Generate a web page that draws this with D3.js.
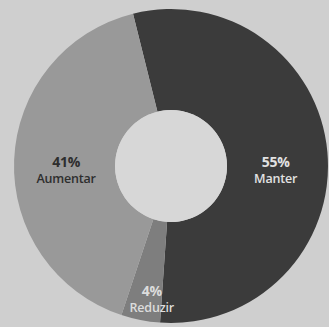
<!DOCTYPE html>
<meta charset="utf-8">
<style>
    body {
        margin: 0;
        overflow: hidden;
        background: #cfcfcf;
    }
    text {
        font-family: "Open Sans", sans-serif;
        text-anchor: middle;
    }
</style>
<svg id="canvas" width="329" height="327"></svg>
<script src="https://d3js.org/d3.v7.min.js"></script>
<script>

    var categories = ["Manter", "Reduzir", "Aumentar"];
    var values = [55, 4, 41];
    var pctLabels = ["55%", "4%", "41%"];

    var fills = ["#3b3b3b", "#7e7e7e", "#999999"];
    var textColors = ["#e2e2e2", "#dcdcdc", "#2e2e2e"];

    var svg = d3.select("svg"),
        cx = 171,
        cy = 166,
        outerR = 157,
        innerR = 56;

    svg.append("rect")
       .attr("width", 329)
       .attr("height", 327)
       .attr("fill", "#cfcfcf");

    var pie = d3.pie()
                .sort(null)
                .startAngle(-14 * Math.PI / 180)
                .endAngle(346 * Math.PI / 180);

    var arc = d3.arc().innerRadius(innerR).outerRadius(outerR);

    var g = svg.append("g").attr("transform", "translate(" + cx + "," + cy + ")");

    var slices = pie(values);

    g.selectAll("path")
     .data(slices)
     .enter().append("path")
     .attr("d", arc)
     .attr("fill", function(d, i) { return fills[i]; });

    // hole
    g.append("circle").attr("r", innerR).attr("fill", "#d7d7d7");

    var labels = g.selectAll("g.label")
                  .data(slices)
                  .enter().append("g")
                  .attr("class", "label")
                  .attr("transform", function(d) {
                      // small slice gets its label pushed out to the rim,
                      // big ones sit on the horizontal centre line
                      if (values[d.index] < 10) {
                          var c = d3.arc().innerRadius(130).outerRadius(130).centroid(d);
                          return "translate(" + (c[0] + 6) + "," + (c[1] + 1) + ")";
                      }
                      var c2 = d3.arc().innerRadius(105).outerRadius(105).centroid(d);
                      return "translate(" + c2[0] + ",0)";
                  });

    labels.append("text")
          .attr("y", 1)
          .attr("font-size", 14)
          .attr("font-weight", 700)
          .attr("letter-spacing", -0.3)
          .attr("fill", function(d, i) { return textColors[i]; })
          .text(function(d, i) { return pctLabels[i]; });

    labels.append("text")
          .attr("y", 17)
          .attr("font-size", 12.5)
          .attr("font-weight", 600)
          .attr("letter-spacing", -0.2)
          .attr("fill", function(d, i) { return textColors[i]; })
          .text(function(d, i) { return categories[i]; });

</script>
